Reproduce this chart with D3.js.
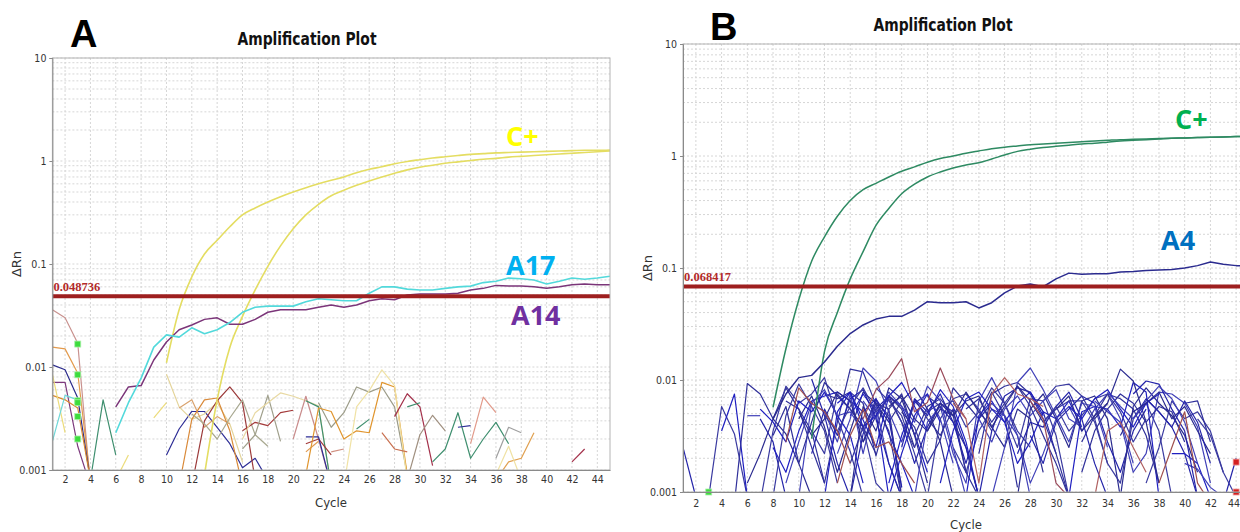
<!DOCTYPE html>
<html>
<head>
<meta charset="utf-8">
<script src="https://cdn.jsdelivr.net/npm/d3@7"></script>
<style>
  body { margin: 0; background: #fff; }
  svg { display: block; }
</style>
</head>
<body>
<svg width="1240" height="532"></svg>
<script>
const svg = d3.select("svg");

// axis values shared by both plots
const xTickValues = d3.range(2, 45, 2);
const yTickValues = [0.001, 0.01, 0.1, 1, 10];

// ---------- panel A ----------
const aThreshold = 0.048736;
const aCplus1 = { start: 10, values: [0.011, 0.036, 0.075, 0.125, 0.17, 0.23, 0.30, 0.35, 0.40, 0.45, 0.50, 0.55, 0.60, 0.65, 0.70, 0.77, 0.83, 0.88, 0.94, 0.99, 1.03, 1.07, 1.10, 1.13, 1.16, 1.18, 1.20, 1.21, 1.22, 1.23, 1.24, 1.25, 1.26, 1.27, 1.27, 1.28] };
const aCplus2 = { start: 13, values: [0.0009, 0.0048, 0.0155, 0.031, 0.056, 0.095, 0.15, 0.22, 0.30, 0.38, 0.46, 0.52, 0.58, 0.64, 0.70, 0.76, 0.82, 0.87, 0.91, 0.95, 0.98, 1.01, 1.04, 1.06, 1.09, 1.11, 1.13, 1.15, 1.17, 1.19, 1.21, 1.23, 1.25] };
const aA17 = { start: 6, values: [0.0023, 0.0045, 0.0078, 0.0156, 0.0205, 0.0195, 0.024, 0.021, 0.023, 0.027, 0.034, 0.038, 0.039, 0.039, 0.039, 0.043, 0.046, 0.045, 0.044, 0.044, 0.052, 0.060, 0.060, 0.057, 0.056, 0.056, 0.058, 0.060, 0.061, 0.066, 0.068, 0.073, 0.072, 0.070, 0.064, 0.068, 0.073, 0.071, 0.073, 0.076] };
const aA14 = { start: 6, values: [0.0041, 0.0064, 0.0066, 0.0117, 0.0175, 0.023, 0.0256, 0.029, 0.030, 0.026, 0.026, 0.029, 0.034, 0.036, 0.036, 0.036, 0.038, 0.040, 0.038, 0.040, 0.044, 0.046, 0.045, 0.050, 0.051, 0.051, 0.051, 0.052, 0.056, 0.058, 0.062, 0.061, 0.061, 0.060, 0.058, 0.060, 0.063, 0.064, 0.063, 0.063] };
const aNoise = [
  { start: 1, values: [0.036, 0.030, 0.017, 0.0007] },
  { start: 1, values: [0.0156, 0.015, 0.0087, 0.0008] },
  { start: 1, values: [0.0105, 0.0094, 0.005, 0.0008] },
  { start: 1, values: [0.0071, 0.0071, 0.0017, 0.0007] },
  { start: 1, values: [0.0053, 0.0048, 0.004, 0.0008] },
  { start: 1, values: [0.0085, 0.0023] },
  { start: 1, values: [0.0019, 0.0053, 0.0048] },
  { start: 4, values: [0.0008, 0.0048, 0.0014] },
  { start: 6, values: [0.0008, 0.0014] },
  { start: 9, values: [0.0032, 0.0045] },
  { start: 10, values: [0.0014, 0.0025, 0.0037, 0.0037, 0.0026, 0.0018, 0.00105, 0.0013, 0.0008] },
  { start: 10, values: [0.0085, 0.0041, 0.0031, 0.0035, 0.0045, 0.0028, 0.0012] },
  { start: 11, values: [0.004, 0.0048, 0.0026, 0.0033, 0.0028] },
  { start: 11, values: [0.0007, 0.0031, 0.0048, 0.005, 0.0024, 0.0007] },
  { start: 12, values: [0.0007, 0.003, 0.0047, 0.0064, 0.0045, 0.0008] },
  { start: 12, values: [0.0035, 0.0028, 0.002, 0.0032, 0.0048, 0.0022, 0.0017] },
  { start: 16, values: [0.0024, 0.0029, 0.0027, 0.0036, 0.0038] },
  { start: 16, values: [0.0016, 0.0022, 0.0053, 0.0019] },
  { start: 16, values: [0.002, 0.0036, 0.0045, 0.0056, 0.0052, 0.0047, 0.0042, 0.0007] },
  { start: 20, values: [0.002, 0.0052, 0.002, 0.0007] },
  { start: 21, values: [0.0047, 0.0041, 0.0007] },
  { start: 21, values: [0.0015, 0.0019] },
  { start: 21, values: [0.0018, 0.002, 0.0014] },
  { start: 21, values: [0.0021, 0.0021, 0.0007] },
  { start: 22, values: [0.0045, 0.0026, 0.0036, 0.0064, 0.0057, 0.0064, 0.0041, 0.0009] },
  { start: 21, values: [0.0009, 0.004, 0.0037, 0.002, 0.0024, 0.0023, 0.0071, 0.0064, 0.0009] },
  { start: 24, values: [0.0007, 0.0041, 0.0059, 0.0094, 0.0066, 0.0008] },
  { start: 28, values: [0.0033, 0.0055, 0.0041, 0.0011] },
  { start: 25, values: [0.0025, 0.0031] },
  { start: 29, values: [0.0041, 0.0045] },
  { start: 31, values: [0.0012, 0.0016, 0.0036, 0.0013, 0.002, 0.0029, 0.0018] },
  { start: 29, values: [0.0008, 0.0022, 0.0034, 0.0024] },
  { start: 34, values: [0.0018, 0.0051, 0.0036] },
  { start: 36, values: [0.0013, 0.0026, 0.0023] },
  { start: 36, values: [0.0008, 0.0012, 0.0013, 0.0023] },
  { start: 36, values: [0.0009, 0.0017, 0.0008] },
  { start: 33, values: [0.0026, 0.0027] },
  { start: 42, values: [0.0012, 0.0016] },
  { start: 27, values: [0.0023, 0.0016, 0.0015] },
  { start: 23, values: [0.0015, 0.0016] }
];
const aNoiseColors = ["#c9928f", "#e39a4c", "#2b2b8c", "#7d3a7d", "#d8892f", "#ecdc7a", "#6fd8d8",
  "#3f8f6f", "#ecdc7a", "#ecdc7a", "#2e2e96", "#e4d49a", "#d9a36f", "#d98a3a", "#9c3b3b", "#a8a890",
  "#a33a3a", "#a0a08c", "#e8d9a3", "#c98c8c", "#3f8f6f", "#e09a50", "#a33a3a", "#2e2e96", "#9c9c88",
  "#e0952e", "#f0e2a4", "#a3304a", "#3f8f6f", "#3f8f6f", "#3f8f6f", "#a09080", "#e29a8a", "#a0a0a0",
  "#e0a050", "#f0e2a4", "#2e2e96", "#a3304a", "#c87050", "#d09080"];
const aMarkers = [{ cycle: 3, value: 0.0167 }, { cycle: 3, value: 0.0084 }, { cycle: 3, value: 0.0047 },
  { cycle: 3, value: 0.0045 }, { cycle: 3, value: 0.0033 }, { cycle: 3, value: 0.002 }];

// ---------- panel B ----------
const bThreshold = 0.068417;
const bCplus1 = { start: 8, values: [0.0057, 0.019, 0.052, 0.115, 0.19, 0.29, 0.40, 0.50, 0.57, 0.65, 0.73, 0.80, 0.88, 0.95, 1.0, 1.06, 1.11, 1.16, 1.20, 1.23, 1.26, 1.28, 1.30, 1.32, 1.34, 1.36, 1.38, 1.40, 1.41, 1.42, 1.43, 1.44, 1.45, 1.46, 1.47, 1.48, 1.49, 1.50] };
const bCplus2 = { start: 11, values: [0.003, 0.018, 0.04, 0.08, 0.14, 0.24, 0.34, 0.46, 0.56, 0.65, 0.72, 0.78, 0.83, 0.87, 0.94, 1.02, 1.10, 1.15, 1.19, 1.22, 1.25, 1.28, 1.30, 1.33, 1.36, 1.38, 1.40, 1.42, 1.44, 1.45, 1.46, 1.47, 1.48, 1.49, 1.50] };
const bA4 = { start: 8, values: [0.0045, 0.0075, 0.0105, 0.011, 0.0145, 0.02, 0.026, 0.031, 0.035, 0.037, 0.037, 0.042, 0.05, 0.049, 0.049, 0.05, 0.044, 0.049, 0.06, 0.069, 0.072, 0.068, 0.08, 0.09, 0.088, 0.089, 0.089, 0.092, 0.093, 0.095, 0.096, 0.097, 0.10, 0.105, 0.113, 0.108, 0.105, 0.104] };
const bNoise = [
  { start: 1, values: [0.0025, 0.0009] },
  { start: 3, values: [0.0009, 0.0058, 0.0033, 0.0009] },
  { start: 4, values: [0.0035, 0.0075, 0.0009] },
  { start: 5, values: [0.0008, 0.0093, 0.0075, 0.0045, 0.0085, 0.0055, 0.0035, 0.0012] },
  { start: 6, values: [0.0048, 0.0048] },
  { start: 6, values: [0.0012, 0.0022, 0.0045, 0.0033, 0.0018, 0.0009] },
  { start: 7, values: [0.0045, 0.0028, 0.0009] },
  { start: 7, values: [0.0008, 0.0035, 0.0088, 0.0062, 0.0075, 0.0105, 0.0045, 0.0023, 0.0009] },
  { start: 8, values: [0.0025, 0.0015, 0.0035, 0.0065, 0.0072, 0.0078, 0.0065, 0.0052, 0.0068, 0.0033, 0.0018, 0.0009] },
  { start: 9, values: [0.0065, 0.0055, 0.0025, 0.0012, 0.0042, 0.0125, 0.0118, 0.006, 0.0035, 0.0009] },
  { start: 10, values: [0.0009, 0.0062, 0.0052, 0.0028, 0.0075, 0.0022, 0.0065, 0.0048, 0.0011] },
  { start: 10, values: [0.0045, 0.0072, 0.0038, 0.0015, 0.0035, 0.0078, 0.0062, 0.0042, 0.0065, 0.0085, 0.0055, 0.0028, 0.0009] },
  { start: 11, values: [0.0102, 0.0048, 0.0018, 0.0009, 0.0033, 0.0068, 0.0045, 0.0011] },
  { start: 11, values: [0.0035, 0.0022, 0.0075, 0.0055, 0.0038, 0.0012, 0.0009] },
  { start: 12, values: [0.0009, 0.0052, 0.0078, 0.0044, 0.0025, 0.0072, 0.0058, 0.0033, 0.0015] },
  { start: 12, values: [0.0075, 0.0068, 0.0078, 0.0062, 0.0021, 0.0055, 0.0009] },
  { start: 13, values: [0.0022, 0.0045, 0.0128, 0.0098, 0.0052, 0.0028, 0.0062, 0.0075, 0.0045, 0.0018] },
  { start: 14, values: [0.0009, 0.0058, 0.0035, 0.0085, 0.0068, 0.0032, 0.0012] },
  { start: 15, values: [0.0028, 0.0055, 0.0072, 0.0042, 0.0018, 0.0038, 0.0062, 0.0052, 0.0025, 0.0009] },
  { start: 16, values: [0.0085, 0.0065, 0.0048, 0.0022, 0.0009, 0.0045, 0.0068, 0.0075, 0.0055, 0.0035] },
  { start: 17, values: [0.0012, 0.0032, 0.0065, 0.0048, 0.0082, 0.0058, 0.0028, 0.0009] },
  { start: 18, values: [0.0052, 0.0038, 0.0018, 0.0029, 0.0085, 0.0062, 0.0045, 0.0078, 0.0048, 0.0011] },
  { start: 19, values: [0.0009, 0.0042, 0.0058, 0.0022, 0.0012, 0.0065, 0.0105, 0.0062, 0.0032, 0.0009] },
  { start: 20, values: [0.0035, 0.0055, 0.0048, 0.0065, 0.0072, 0.0038, 0.0025, 0.0055, 0.0045, 0.0015] },
  { start: 21, values: [0.0058, 0.0042, 0.0025, 0.0009, 0.0035, 0.0072, 0.0085, 0.0078, 0.0052, 0.0022] },
  { start: 22, values: [0.0025, 0.0015, 0.0035, 0.0055, 0.0048, 0.0025, 0.0068, 0.0065, 0.0032, 0.0009] },
  { start: 23, values: [0.0009, 0.0048, 0.0065, 0.0042, 0.0018, 0.0028, 0.0052, 0.0045, 0.0065, 0.0038] },
  { start: 24, values: [0.0022, 0.0075, 0.0088, 0.0095, 0.0075, 0.0045, 0.0022, 0.0009] },
  { start: 25, values: [0.0062, 0.0048, 0.0032, 0.0012, 0.0022, 0.0045, 0.0058, 0.0035, 0.0055, 0.0075, 0.0045, 0.0018] },
  { start: 27, values: [0.0009, 0.0055, 0.0075, 0.0045, 0.0025, 0.0065, 0.0072, 0.0045, 0.0009] },
  { start: 28, values: [0.0032, 0.0018, 0.0042, 0.0055, 0.0072, 0.0062, 0.0028, 0.0015, 0.0035, 0.0055] },
  { start: 30, values: [0.0055, 0.0065, 0.0065, 0.0042, 0.0018, 0.0012, 0.0045, 0.0062, 0.0035, 0.0009] },
  { start: 31, values: [0.0009, 0.0052, 0.0058, 0.0055, 0.0038, 0.0095, 0.0078, 0.0009] },
  { start: 32, values: [0.0028, 0.0048, 0.0075, 0.0068, 0.0055, 0.0032, 0.0012] },
  { start: 33, values: [0.0065, 0.0052, 0.0042, 0.0015, 0.0022, 0.0078, 0.0075, 0.0062, 0.0038, 0.0012] },
  { start: 35, values: [0.0009, 0.0058, 0.0085, 0.0062, 0.0048, 0.0032, 0.0015] },
  { start: 36, values: [0.0045, 0.0068, 0.0052, 0.0038, 0.0022, 0.0009] },
  { start: 37, values: [0.0012, 0.0025, 0.0065, 0.0045, 0.0052, 0.0035, 0.0015] },
  { start: 39, values: [0.0022, 0.0022, 0.0018, 0.0009] },
  { start: 40, values: [0.0062, 0.0065, 0.0028] },
  { start: 40, values: [0.0018, 0.0016, 0.0011, 0.0009] },
  { start: 43, values: [0.0009, 0.0009] },
  { start: 43, values: [0.0008, 0.002] },
  { start: 8, values: [0.0009, 0.0048, 0.0092, 0.0058, 0.0035, 0.0012] },
  { start: 14, values: [0.0048, 0.0075, 0.0052, 0.0009, 0.0022, 0.0048, 0.0075, 0.0042] },
  { start: 19, values: [0.0068, 0.0045, 0.0032, 0.0055, 0.0015, 0.0009] },
  { start: 25, values: [0.0009, 0.0025, 0.0095, 0.0128, 0.0082, 0.0048, 0.0028, 0.0062, 0.0058, 0.0025] },
  { start: 33, values: [0.0045, 0.0062, 0.0125, 0.0098, 0.0042, 0.0012] },
  { start: 36, values: [0.0075, 0.0098, 0.0092, 0.0055, 0.0035, 0.0009] },
  { start: 29, values: [0.0065, 0.0088, 0.0092, 0.0072, 0.0045, 0.0018] },
  { start: 7, values: [0.0055, 0.0042, 0.0028, 0.0065, 0.0052, 0.0078, 0.0048, 0.0032, 0.0012] },
  { start: 8, values: [0.0032, 0.0058, 0.0018, 0.0042, 0.0095, 0.0072, 0.0055, 0.0038, 0.0022] },
  { start: 9, values: [0.0012, 0.0028, 0.0062, 0.0082, 0.0048, 0.0052, 0.0035, 0.0058, 0.0018, 0.0009] },
  { start: 10, values: [0.0052, 0.0032, 0.0045, 0.0078, 0.0065, 0.0028, 0.0048, 0.0072, 0.0055, 0.0025] },
  { start: 11, values: [0.0022, 0.0055, 0.0032, 0.0068, 0.0082, 0.0045, 0.0018, 0.0009] },
  { start: 12, values: [0.0048, 0.0035, 0.0058, 0.0085, 0.0052, 0.0068, 0.0042, 0.0025, 0.0052, 0.0062] },
  { start: 13, values: [0.0062, 0.0078, 0.0038, 0.0048, 0.0072, 0.0095, 0.0058, 0.0035] },
  { start: 14, values: [0.0018, 0.0038, 0.0062, 0.0055, 0.0075, 0.0032, 0.0058, 0.0068, 0.0048, 0.0015] },
  { start: 15, values: [0.0065, 0.0045, 0.0078, 0.0058, 0.0042, 0.0088, 0.0065, 0.0025, 0.0009] },
  { start: 17, values: [0.0058, 0.0072, 0.0045, 0.0035, 0.0062, 0.0048, 0.0078, 0.0052, 0.0038, 0.0058] },
  { start: 18, values: [0.0025, 0.0068, 0.0052, 0.0075, 0.0042, 0.0018, 0.0045, 0.0062] },
  { start: 20, values: [0.0072, 0.0058, 0.0065, 0.0038, 0.0052, 0.0085, 0.0062, 0.0035, 0.0025] },
  { start: 21, values: [0.0012, 0.0035, 0.0068, 0.0078, 0.0055, 0.0042, 0.0062, 0.0078, 0.0048] },
  { start: 23, values: [0.0055, 0.0068, 0.0042, 0.0062, 0.0088, 0.0058, 0.0032, 0.0018, 0.0009] },
  { start: 24, values: [0.0045, 0.0028, 0.0055, 0.0072, 0.0048, 0.0065, 0.0082, 0.0045, 0.0038] },
  { start: 26, values: [0.0058, 0.0088, 0.0065, 0.0042, 0.0055, 0.0072, 0.0035, 0.0048, 0.0062] },
  { start: 27, values: [0.0022, 0.0042, 0.0038, 0.0058, 0.0078, 0.0045, 0.0018, 0.0009] },
  { start: 29, values: [0.0042, 0.0058, 0.0035, 0.0048, 0.0068, 0.0075, 0.0052, 0.0028, 0.0045] },
  { start: 31, values: [0.0058, 0.0045, 0.0068, 0.0082, 0.0055, 0.0038, 0.0062, 0.0075] },
  { start: 32, values: [0.0015, 0.0035, 0.0055, 0.0075, 0.0062, 0.0042, 0.0058, 0.0052, 0.0028] },
  { start: 34, values: [0.0078, 0.0058, 0.0045, 0.0065, 0.0088, 0.0068, 0.0042, 0.0018] },
  { start: 35, values: [0.0032, 0.0052, 0.0062, 0.0078, 0.0045, 0.0058, 0.0035, 0.0022] },
  { start: 37, values: [0.0068, 0.0052, 0.0038, 0.0065, 0.0042, 0.0018] },
  { start: 41, values: [0.0045, 0.0032, 0.0015, 0.0009] }
];
const bMaroon = [
  { start: 9, values: [0.0028, 0.0085, 0.0062, 0.0052, 0.0035, 0.0018] },
  { start: 15, values: [0.0045, 0.0082, 0.0105, 0.0155, 0.0052, 0.0063, 0.0128, 0.0068, 0.0045] },
  { start: 22, values: [0.0062, 0.0045, 0.0012, 0.0075, 0.0105, 0.0075, 0.0068, 0.0058] },
  { start: 13, values: [0.0012, 0.0032, 0.0055, 0.0025, 0.0028, 0.0018, 0.0012] },
  { start: 28, values: [0.0065, 0.0045, 0.0012, 0.0009] },
  { start: 33, values: [0.0009, 0.0035, 0.0042, 0.0025, 0.0015] },
  { start: 38, values: [0.0012, 0.0025, 0.0052, 0.0012, 0.0008] }
];
const bGreenMarkers = [{ cycle: 3, value: 0.001 }];
const bRedMarkers = [{ cycle: 44, value: 0.00185 }, { cycle: 44, value: 0.001 }];

const bluePalette = ["#2323a8", "#3a3aa0", "#1f1fc0", "#30309a", "#4040b8", "#2a2a8f"];

// ---------- drawing ----------
function toPoints(s) {
  return s.values.map((v, i) => ({ c: s.start + i, v: v }));
}

function drawPanel(p) {
  const x = d3.scaleLinear().domain([1, 45]).range([p.left, p.right]);
  const y = d3.scaleLog().domain([0.001, 10]).range([p.bottom, p.top]);
  const g = svg.append("g");

  const clipId = "clip" + p.letter;
  svg.append("clipPath").attr("id", clipId)
    .append("rect")
    .attr("x", p.left).attr("y", p.top)
    .attr("width", p.right - p.left).attr("height", p.bottom - p.top);

  // grid
  const hGrid = [];
  [0.001, 0.01, 0.1, 1].forEach(d => { for (let k = 1; k <= 9; k++) hGrid.push(d * k); });
  hGrid.push(10);
  g.append("g").selectAll("line").data(hGrid).join("line")
    .attr("x1", p.left).attr("x2", p.right)
    .attr("y1", d => y(d)).attr("y2", d => y(d))
    .attr("stroke", "#d6d6d6").attr("stroke-dasharray", "2,2");
  g.append("g").selectAll("line").data(xTickValues).join("line")
    .attr("x1", d => x(d)).attr("x2", d => x(d))
    .attr("y1", p.top).attr("y2", p.bottom)
    .attr("stroke", "#d6d6d6").attr("stroke-dasharray", "2,2");

  const plot = g.append("g").attr("clip-path", `url(#${clipId})`);

  p.layers.forEach(layer => {
    const line = d3.line().x(d => x(d.c)).y(d => y(d.v))
      .curve(layer.smooth ? d3.curveMonotoneX : d3.curveLinear);
    plot.append("g").selectAll("path").data(layer.series).join("path")
      .attr("fill", "none")
      .attr("stroke", (d, i) => layer.colors[i % layer.colors.length])
      .attr("stroke-width", layer.width)
      .attr("stroke-linejoin", "round")
      .attr("d", d => line(toPoints(d)));
  });

  // threshold
  g.append("line")
    .attr("x1", p.left).attr("x2", p.right)
    .attr("y1", y(p.threshold)).attr("y2", y(p.threshold))
    .attr("stroke", "#9e1f1f").attr("stroke-width", 4);
  g.append("text")
    .attr("x", p.left + 1).attr("y", y(p.threshold) - 5)
    .attr("font-family", "'Liberation Serif', 'Times New Roman', serif")
    .attr("font-size", 12.5).attr("font-weight", "bold")
    .attr("fill", "#b22a2a")
    .text(p.threshold.toString());

  // markers
  p.markers.forEach(m => {
    g.append("g").selectAll("rect").data(m.data).join("rect")
      .attr("x", d => x(d.cycle) - 3).attr("y", d => y(d.value) - 3)
      .attr("width", 6).attr("height", 6)
      .attr("fill", m.fill).attr("stroke", m.stroke).attr("stroke-width", 0.8);
  });

  // frame
  g.append("rect")
    .attr("x", p.left).attr("y", p.top)
    .attr("width", p.right - p.left).attr("height", p.bottom - p.top)
    .attr("fill", "none").attr("stroke", "#b4b4b4");

  const tickFont = "'Liberation Sans Narrow', 'Arial Narrow', 'DejaVu Sans Condensed', sans-serif";
  const yAxis = g.append("g").attr("transform", `translate(${p.left},0)`)
    .call(d3.axisLeft(y).tickValues(yTickValues).tickSize(3).tickPadding(3).tickFormat(d => d.toString()));
  const xAxis = g.append("g").attr("transform", `translate(0,${p.bottom})`)
    .call(d3.axisBottom(x).tickValues(xTickValues).tickSize(0).tickPadding(p.xPad));
  [yAxis, xAxis].forEach(a => {
    a.select(".domain").attr("stroke", "#8a8a8a");
    a.selectAll(".tick line").attr("stroke", "#8a8a8a");
    a.selectAll("text").attr("font-family", tickFont).attr("font-size", 10.5).attr("fill", "#333");
  });
  // keep the last cycle label inside the page edge
  xAxis.selectAll(".tick text").filter(d => x(d) + 6 > 1240).attr("text-anchor", "end").attr("dx", 1240 - x(44) - 0.5);

  // axis titles
  g.append("text")
    .attr("x", p.cycleX).attr("y", p.cycleY)
    .attr("text-anchor", "middle")
    .attr("font-family", tickFont).attr("font-size", 13).attr("fill", "#333")
    .text("Cycle");
  g.append("text")
    .attr("transform", `translate(${p.rnX},${p.rnY}) rotate(-90)`)
    .attr("text-anchor", "middle")
    .attr("font-family", "'DejaVu Sans', sans-serif").attr("font-size", 13).attr("fill", "#333")
    .text("ΔRn");

  // title and panel letter
  g.append("text")
    .attr("x", p.titleX).attr("y", p.titleY)
    .attr("text-anchor", "middle")
    .attr("font-family", "'Liberation Sans Narrow', 'Arial Narrow', 'DejaVu Sans Condensed', sans-serif")
    .attr("font-weight", "bold").attr("font-size", 18).attr("fill", "#111")
    .attr("textLength", 139).attr("lengthAdjust", "spacingAndGlyphs")
    .text("Amplification Plot");
  g.append("text")
    .attr("x", p.letterX).attr("y", p.letterY)
    .attr("font-family", "'Liberation Sans', Arial, sans-serif")
    .attr("font-weight", "bold").attr("font-size", 38).attr("fill", "#000")
    .text(p.letter);

  // series labels
  g.append("g").selectAll("text").data(p.labels).join("text")
    .attr("x", d => d.x).attr("y", d => d.y)
    .attr("font-family", "'Open Sans', 'Noto Sans', sans-serif")
    .attr("font-weight", "bold").attr("font-size", 27)
    .attr("fill", d => d.color)
    .text(d => d.text);
}

drawPanel({
  letter: "A", left: 52.4, right: 610, top: 58, bottom: 470, xPad: 6,
  threshold: aThreshold,
  layers: [
    { series: aNoise, colors: aNoiseColors, width: 1.2 },
    { series: [aCplus1, aCplus2], colors: ["#e4dd62"], width: 1.6, smooth: true },
    { series: [aA14], colors: ["#7b3579"], width: 1.5 },
    { series: [aA17], colors: ["#52d9db"], width: 1.6 }
  ],
  markers: [{ data: aMarkers, fill: "#3ddc3d", stroke: "#a8f0a8" }],
  cycleX: 331, cycleY: 507, rnX: 21, rnY: 264,
  titleX: 307, titleY: 45, letterX: 70, letterY: 47,
  labels: [
    { text: "C+", x: 506, y: 146, color: "#ffff00" },
    { text: "A17", x: 506, y: 275, color: "#00b0f0" },
    { text: "A14", x: 511, y: 325, color: "#7030a0" }
  ]
});

drawPanel({
  letter: "B", left: 683, right: 1249, top: 44, bottom: 492, xPad: 8,
  threshold: bThreshold,
  layers: [
    { series: bNoise, colors: bluePalette, width: 1.2 },
    { series: bMaroon, colors: ["#a0504e", "#9a4a5a", "#b06060"], width: 1.2 },
    { series: [bCplus1, bCplus2], colors: ["#2e8a62"], width: 1.5, smooth: true },
    { series: [bA4], colors: ["#2b2b8f"], width: 1.5 }
  ],
  markers: [
    { data: bGreenMarkers, fill: "#3ddc3d", stroke: "#a8f0a8" },
    { data: bRedMarkers, fill: "#d42020", stroke: "#f0a0a0" }
  ],
  cycleX: 966, cycleY: 529, rnX: 652, rnY: 268,
  titleX: 943, titleY: 31, letterX: 710, letterY: 40,
  labels: [
    { text: "C+", x: 1175, y: 129, color: "#00b050" },
    { text: "A4", x: 1161, y: 250, color: "#0070c0" }
  ]
});
</script>
</body>
</html>
